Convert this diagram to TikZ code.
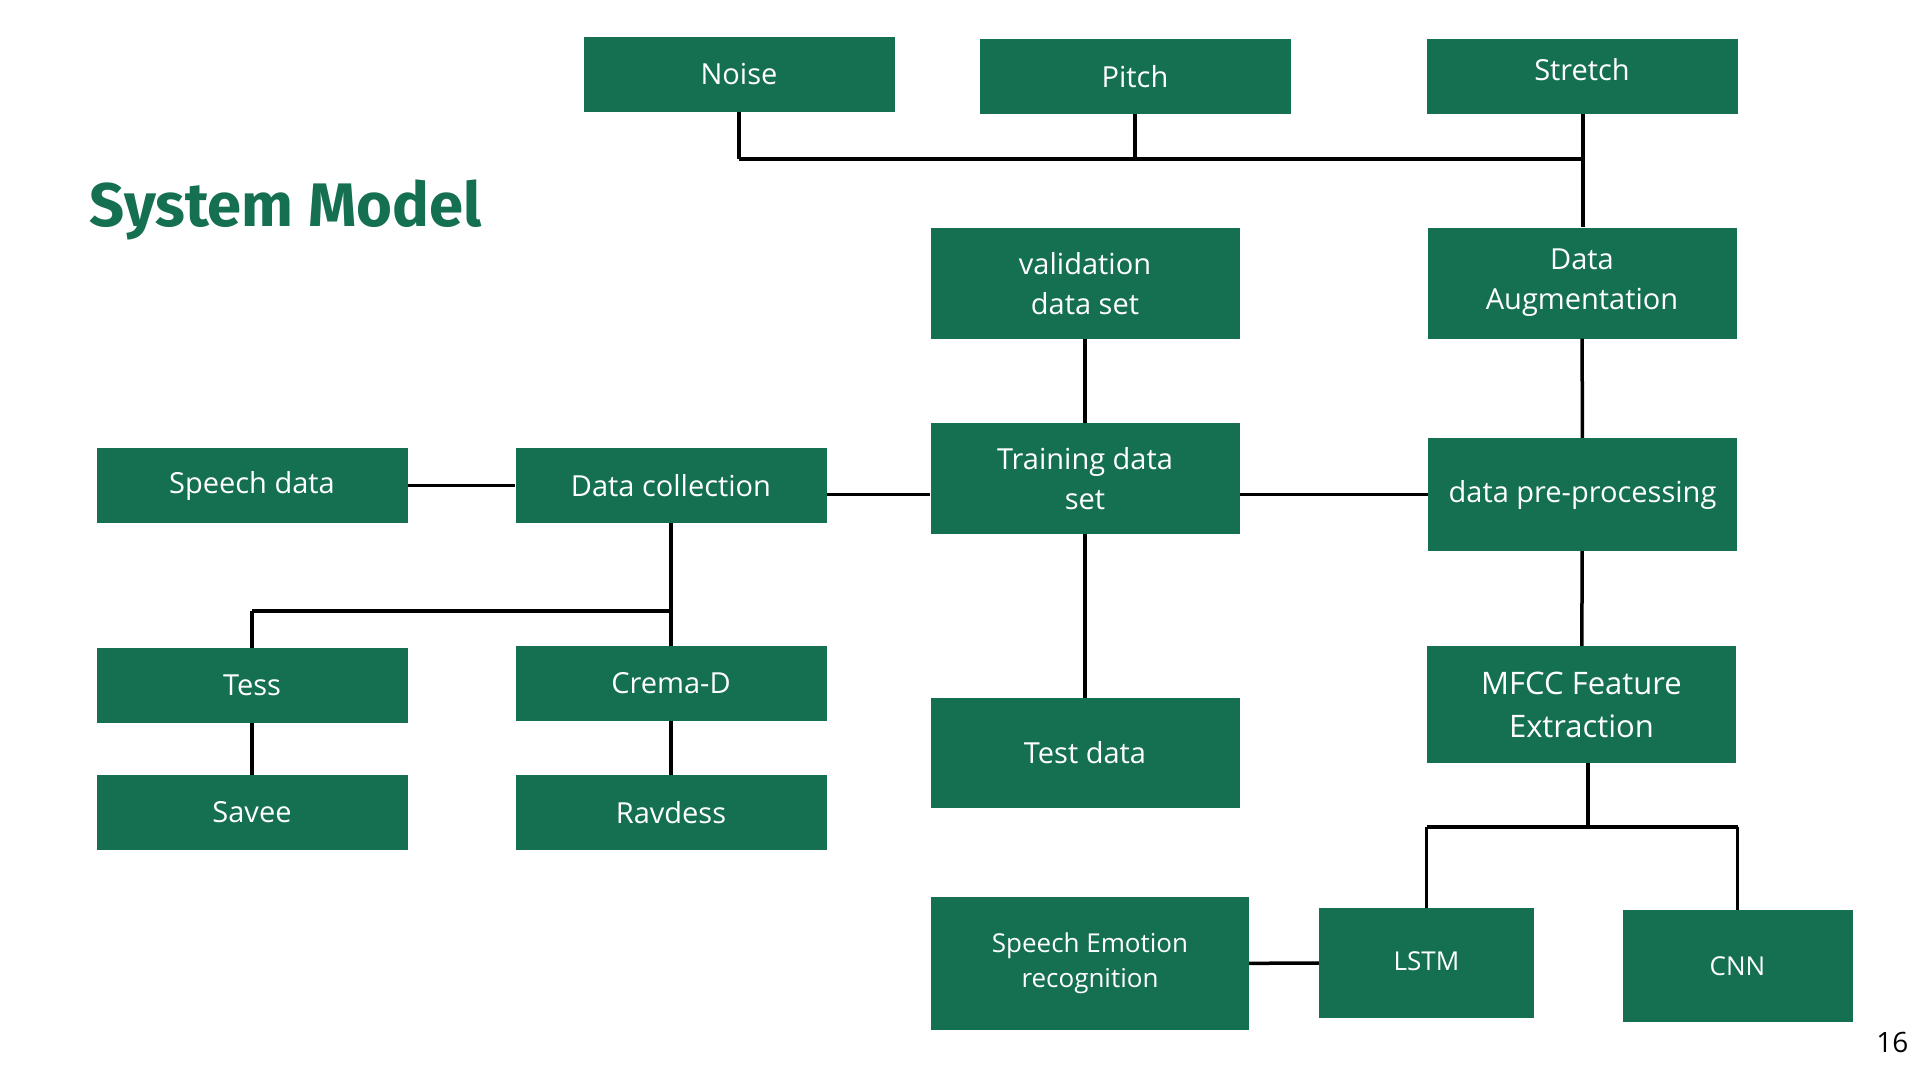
\documentclass[tikz,border=0pt]{standalone}
\usepackage{fontspec}
\setmainfont{Open Sans}
\newfontfamily\titlefont{Fira Sans}
\usepackage{xcolor}
\definecolor{boxgreen}{RGB}{20,112,80}
\usepackage{tikz}
\newcommand{\widthbox}{311pt}
\newcommand{\heightshort}{75pt}
\newcommand{\heighttall}{111pt}
\tikzset{
    common/.style={anchor=center, rectangle, fill=boxgreen, text=white, inner sep=0pt, align=center, font=\fontsize{29}{40}\selectfont},
    short/.style={common, minimum width=\widthbox, minimum height=\heightshort},
    tall/.style={common, minimum width=\widthbox, minimum height=\heighttall},
    model/.style={common, minimum height=110pt, font=\fontsize{26}{36}\selectfont},
    link/.style={line width=3.5pt, black},
    bus/.style={line width=4.5pt, black}
}

\begin{document}
\begin{tikzpicture}[x=1pt, y=-1pt]
    \useasboundingbox (0,0) rectangle (1920,1080);

    \node[anchor=base west, text=boxgreen, font=\titlefont\bfseries\fontsize{61.5}{72}\selectfont] (title) at (86,226) {System Model};

    \node[short] (noise) at (739,74.5) {\raisebox{1pt}{Noise}};
    \node[short] (pitch) at (1135,76.5) {Pitch};
    \node[short] (stretch) at (1582,76.5) {\raisebox{14pt}{Stretch}};
    \node[tall, minimum width=309pt] (valid) at (1085,283.5) {validation\\ data set};
    \node[tall, minimum width=309pt] (aug) at (1582,283) {Data\\ Augmentation};
    \node[tall, minimum width=309pt] (train) at (1085,478.5) {Training data\\ set};
    \node[tall, minimum width=309pt, minimum height=113pt] (prep) at (1582.5,494.5) {data pre-processing};
    \node[short] (speech) at (252,485.5) {Speech data};
    \node[short] (collect) at (671,485.5) {Data collection};
    \node[short] (tess) at (252,685.5) {Tess};
    \node[short] (crema) at (671,683.5) {Crema-D};
    \node[short] (savee) at (252,812.5) {Savee};
    \node[short] (ravdess) at (671,812.5) {Ravdess};
    \node[tall, minimum width=309pt, minimum height=110pt] (test) at (1085,753) {Test data};
    \node[tall, minimum width=309pt, minimum height=117pt, font=\fontsize{31}{43}\selectfont] (mfcc) at (1581.5,704.5) {MFCC Feature\\ Extraction};
    \node[model, minimum width=318pt, minimum height=133pt, font=\fontsize{26}{35}\selectfont] (ser) at (1090,963.5) {Speech Emotion\\ recognition};
    \node[model, minimum width=215pt] (lstm) at (1426.5,963) {\raisebox{3pt}{LSTM}};
    \node[model, minimum width=230pt, minimum height=112pt] (cnn) at (1737.5,966) {CNN};

    \node[anchor=base east, font=\fontsize{28}{34}\selectfont] (page) at (1912,1052) {16};

    \coordinate (augbus) at (1583,159);
    \coordinate (databus) at (671,611);
    \coordinate (modelbus) at (1588,827);

    \draw[link] (noise.south) -- (noise.south |- augbus);
    \draw[link] (pitch.south) -- (pitch.south |- augbus);
    \draw[bus] (noise.south |- augbus) -- (augbus);
    \draw[link] (stretch.south -| augbus) -- (aug.north -| augbus);
    \draw[link] (aug) -- (prep);
    \draw[link] (prep) -- (mfcc);
    \draw[link] (valid) -- (train);
    \draw[link] (train) -- (test);
    \draw[link] (speech) -- (collect);
    \draw[link] (collect.east |- prep.west) -- (train.west |- prep.west);
    \draw[link] (train.east |- prep.west) -- (prep.west);
    \draw[link] (collect.south -| databus) -- (crema.north -| databus);
    \draw[link] (tess.north) -- (tess.north |- databus);
    \draw[bus] (tess.north |- databus) -- (databus);
    \draw[link] (tess) -- (savee);
    \draw[link] (crema) -- (ravdess);
    \draw[link] (mfcc.south -| modelbus) -- (modelbus);
    \draw[bus] (lstm.north |- modelbus) -- (cnn.north |- modelbus);
    \draw[link] (lstm.north) -- (lstm.north |- modelbus);
    \draw[link] (cnn.north) -- (cnn.north |- modelbus);
    \draw[link] (ser) -- (lstm);
\end{tikzpicture}
\end{document}
